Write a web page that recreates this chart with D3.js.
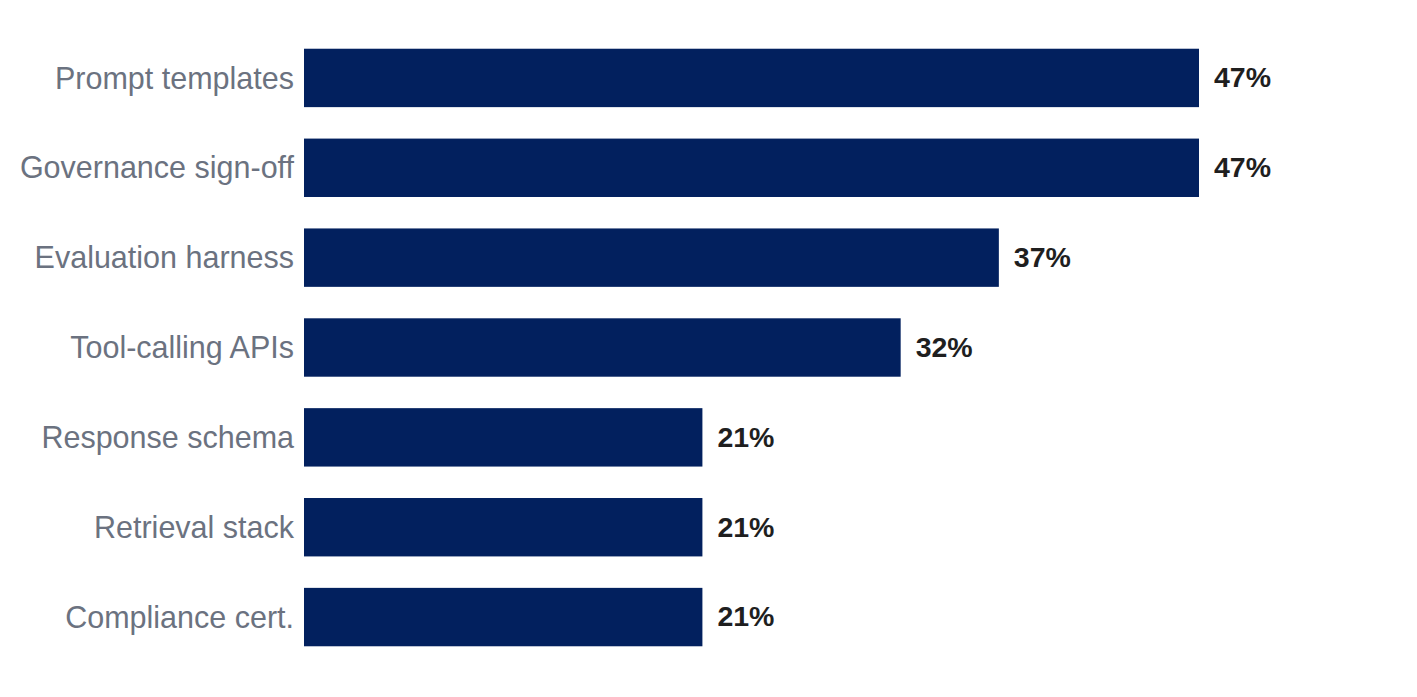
<!DOCTYPE html>
<html>
<head>
<meta charset="utf-8">
<script src="https://cdn.jsdelivr.net/npm/d3@7"></script>
<style>
  body { margin: 0; background: #fff; }
  svg { display: block; font-family: "Liberation Sans", Arial, sans-serif; }
</style>
</head>
<body>
<script>
// share of respondents (9/19, 7/19, 6/19, 4/19)
const categories = ["Prompt templates", "Governance sign-off", "Evaluation harness",
  "Tool-calling APIs", "Response schema", "Retrieval stack", "Compliance cert."];
const values = [47.4, 47.4, 36.8, 31.6, 21.1, 21.1, 21.1];

const data = categories.map((c, i) => ({name: c, value: values[i]}));

let margin = {top: 33, right: 218, bottom: 35, left: 304};
let size = {width: 1417, height: 697};

let svg = d3.select("body").append("svg")
    .attr("width", size.width)
    .attr("height", size.height);

let x = d3.scaleLinear()
    .domain([0, d3.max(values)])
    .range([margin.left, size.width - margin.right]);

let y = d3.scaleBand()
    .domain(categories)
    .range([margin.top, size.height - margin.bottom])
    .paddingInner(0.35)
    .paddingOuter(0.175);

svg.append("g")
    .selectAll("rect")
    .data(data)
    .join("rect")
    .attr("x", x(0))
    .attr("y", d => y(d.name))
    .attr("width", d => x(d.value) - x(0))
    .attr("height", y.bandwidth())
    .attr("fill", "#02205e");

svg.append("g")
    .selectAll("text")
    .data(data)
    .join("text")
    .attr("x", x(0) - 10)
    .attr("y", d => y(d.name) + y.bandwidth() / 2)
    .attr("dy", "0.35em")
    .attr("text-anchor", "end")
    .attr("fill", "#6b7280")
    .attr("font-size", 30.5)
    .text(d => d.name);

svg.append("g")
    .selectAll("text")
    .data(data)
    .join("text")
    .attr("x", d => x(d.value) + 15)
    .attr("y", d => y(d.name) + y.bandwidth() / 2)
    .attr("dy", "0.33em")
    .attr("fill", "#1f1f1f")
    .attr("font-size", 28.5)
    .attr("font-weight", "bold")
    .text(d => Math.round(d.value) + "%");
</script>
</body>
</html>
